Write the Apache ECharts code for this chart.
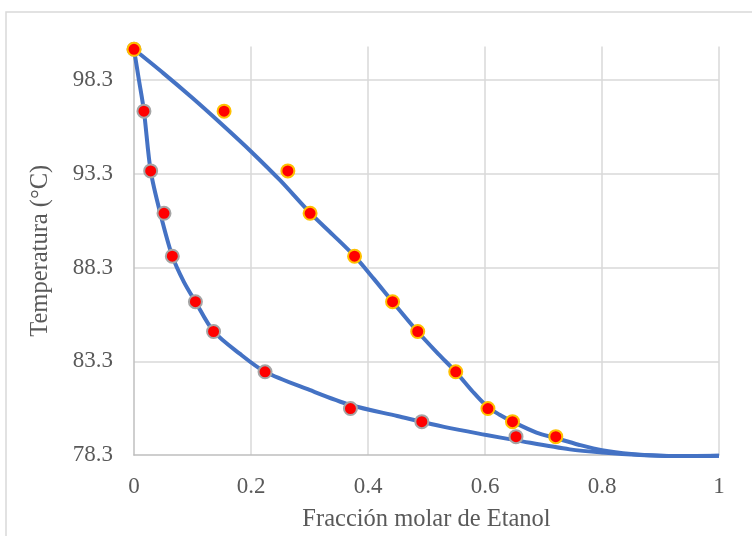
<!DOCTYPE html>
<html>
<head>
<meta charset="utf-8">
<script src="https://cdn.jsdelivr.net/npm/echarts@6/dist/echarts.min.js"></script>
<style>
html,body{margin:0;padding:0;background:#fff;}
#chart{width:752px;height:536px;}
</style>
</head>
<body>
<div id="chart"></div>
<script>
// Temperatures shared by liquid and vapour measurements (°C)
const temps = [99.95, 96.65, 93.46, 91.2, 88.91, 86.48, 84.89, 82.74, 80.78, 80.08, 79.28];
// Liquid mole fraction of ethanol
const liquidX = [0, 0.017, 0.0285, 0.0513, 0.0655, 0.105, 0.136, 0.224, 0.370, 0.492, 0.653];
// Vapour mole fraction of ethanol
const vaporX = [0, 0.154, 0.263, 0.301, 0.377, 0.442, 0.485, 0.550, 0.605, 0.647, 0.721];

// Lower (bubble) curve
const lowerCurveX = [0, 0.0085, 0.017, 0.0285, 0.045, 0.0655, 0.085, 0.105, 0.136, 0.18, 0.224, 0.3, 0.37, 0.45, 0.53, 0.6, 0.654, 0.745, 0.8, 0.865, 0.93, 1.0];
const lowerCurveT = [99.95, 98.3, 96.65, 93.46, 91.19, 88.91, 87.55, 86.48, 84.9, 83.72, 82.74, 81.77, 80.97, 80.38, 79.8, 79.38, 79.08, 78.6, 78.43, 78.3, 78.25, 78.26];
// Upper (dew) curve
const upperCurveX = [0, 0.05, 0.1, 0.15, 0.2, 0.25, 0.301, 0.34, 0.377, 0.41, 0.442, 0.485, 0.52, 0.55, 0.58, 0.605, 0.625, 0.647, 0.688, 0.721, 0.76, 0.8, 0.85, 0.9, 0.95, 1.0];
const upperCurveT = [99.95, 98.68, 97.35, 95.95, 94.5, 92.95, 91.22, 90.05, 88.91, 87.7, 86.48, 84.88, 83.7, 82.74, 81.65, 80.85, 80.45, 80.08, 79.5, 79.2, 78.85, 78.55, 78.35, 78.26, 78.24, 78.26];

const xTicks = {min: 0, max: 1, interval: 0.2};
const yTicks = {min: 78.3, max: 100.1, interval: 5};

const zip = (xs, ys) => xs.map((x, i) => [x, ys[i]]);

const chart = echarts.init(document.getElementById('chart'), null, {renderer: 'canvas'});
const labelFont = 'Liberation Serif, Times New Roman, serif';
const txt = '#595959';

chart.setOption({
  animation: false,
  backgroundColor: '#fff',
  graphic: [{
    type: 'rect',
    shape: {x: 6, y: 12, width: 900, height: 700},
    style: {fill: 'none', stroke: '#D9D9D9', lineWidth: 1.5},
    silent: true, z: -10
  }],
  grid: {left: 134, right: 33, top: 46.5, bottom: 81, containLabel: false, outerBoundsMode: 'none'},
  xAxis: {
    type: 'value', min: xTicks.min, max: xTicks.max, interval: xTicks.interval,
    name: 'Fracción molar de Etanol', nameLocation: 'middle', nameGap: 52,
    nameTextStyle: {fontFamily: labelFont, fontSize: 24.5, color: txt},
    axisLine: {show: true, lineStyle: {color: '#BFBFBF', width: 1.5}},
    axisTick: {show: false},
    axisLabel: {fontFamily: labelFont, fontSize: 23, color: txt, margin: 20,
      formatter: v => String(+v.toFixed(1))},
    splitLine: {show: true, showMinLine: false, lineStyle: {color: '#D9D9D9', width: 1.5}}
  },
  yAxis: {
    type: 'value', min: yTicks.min, max: yTicks.max, interval: yTicks.interval,
    name: 'Temperatura (°C)', nameLocation: 'middle', nameGap: 81,
    nameTextStyle: {fontFamily: labelFont, fontSize: 24.5, color: txt},
    axisLine: {show: true, lineStyle: {color: '#BFBFBF', width: 1.5}},
    axisTick: {show: false},
    axisLabel: {fontFamily: labelFont, fontSize: 23, color: txt, margin: 21,
      showMaxLabel: false, formatter: v => v.toFixed(1)},
    splitLine: {show: true, showMinLine: false, showMaxLine: false, lineStyle: {color: '#D9D9D9', width: 1.5}}
  },
  series: [
    {
      type: 'line', data: zip(lowerCurveX, lowerCurveT), smooth: 0.3, showSymbol: false,
      clip: false, lineStyle: {color: '#4472C4', width: 4}, z: 2
    },
    {
      type: 'line', data: zip(upperCurveX, upperCurveT), smooth: 0.3, showSymbol: false,
      clip: false, lineStyle: {color: '#4472C4', width: 4}, z: 2
    },
    {
      type: 'scatter', data: zip(liquidX, temps), symbol: 'circle', symbolSize: 13,
      itemStyle: {color: '#FF0000', borderColor: '#A5A5A5', borderWidth: 2, opacity: 1}, z: 3
    },
    {
      type: 'scatter', data: zip(vaporX, temps), symbol: 'circle', symbolSize: 13,
      itemStyle: {color: '#FF0000', borderColor: '#FFC000', borderWidth: 2, opacity: 1}, z: 4
    }
  ]
});
</script>
</body>
</html>
